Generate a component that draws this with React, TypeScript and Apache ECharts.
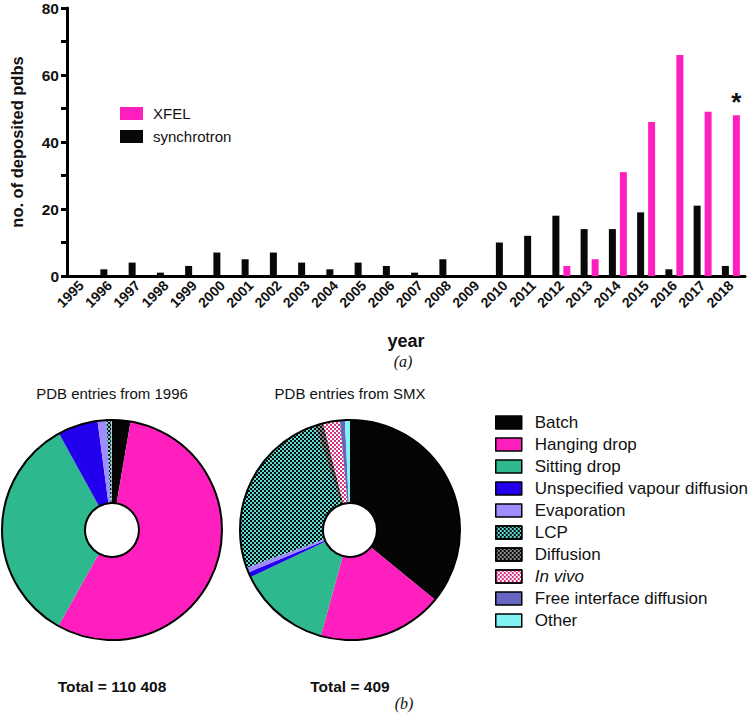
import React, { useEffect, useRef } from "react";
import * as echarts from "echarts";

const years = ["1995","1996","1997","1998","1999","2000","2001","2002","2003","2004","2005","2006","2007","2008","2009","2010","2011","2012","2013","2014","2015","2016","2017","2018"];
const synchrotron = [0,2,4,1,3,7,5,7,4,2,4,3,1,5,0,10,12,18,14,14,19,2,21,3];
const xfel = [0,0,0,0,0,0,0,0,0,0,0,0,0,0,0,0,0,3,5,31,46,66,49,48];
const yTicks = { min: 0, max: 80, interval: 20 };

const methods = ["Batch","Hanging drop","Sitting drop","Unspecified vapour diffusion","Evaporation","LCP","Diffusion","In vivo","Free interface diffusion","Other"];
const pdbAll = [2980,61170,37430,6510,1435,550,165,55,55,58];
const pdbSmx = [147,75,56,3,3,104,5,10,3,3];
const totals = ["Total = 110 408","Total = 409"];
const pieTitles = ["PDB entries from 1996","PDB entries from SMX"];

const PINK = "#FF1EBE";
const FONT = "Arial, 'Liberation Sans', sans-serif";

const checker = (color: string) => ({
  symbol: "rect",
  symbolSize: 1,
  color,
  dashArrayX: [[2, 2], [0, 2, 2, 0]],
  dashArrayY: [2, 0],
  rotation: 0,
});

const methodStyles: any[] = [
  { color: "#050505" },
  { color: PINK },
  { color: "#2EB88E" },
  { color: "#2200EE" },
  { color: "#A08CFF" },
  { color: "#5FDCD4", decal: checker("#0a0a0a") },
  { color: "#8a8a8a", decal: checker("#0a0a0a") },
  { color: "#FFFFFF", decal: checker("#D8307E") },
  { color: "#6666C0" },
  { color: "#80F2F2" },
];

const pieCenters = [[112, 530], [350, 530]];
const R_OUT = 110;
const R_IN = 27;

export default function App() {
  const ref = useRef<HTMLDivElement>(null);
  useEffect(() => {
    if (!ref.current) return;
    const chart = echarts.init(ref.current, null, { renderer: "svg" });
    const pieSeries = [pdbAll, pdbSmx].map((vals, k) => ({
      type: "pie",
      name: pieTitles[k],
      center: pieCenters[k],
      radius: [R_IN, R_OUT],
      startAngle: 90,
      clockwise: true,
      label: { show: false },
      labelLine: { show: false },
      emphasis: { disabled: true },
      silent: true,
      data: methods.map((m, i) => ({ name: m, value: vals[i], itemStyle: methodStyles[i] })),
    }));

    const graphic: any[] = [];
    pieCenters.forEach((c, k) => {
      graphic.push({ type: "circle", shape: { cx: c[0], cy: c[1], r: R_OUT }, style: { fill: "none", stroke: "#000", lineWidth: 2 }, z: 100 });
      graphic.push({ type: "circle", shape: { cx: c[0], cy: c[1], r: R_IN }, style: { fill: "#fff", stroke: "#000", lineWidth: 2 }, z: 100 });
      graphic.push({ type: "text", x: c[0], y: 393, style: { text: pieTitles[k], font: `15px ${FONT}`, fill: "#111", textAlign: "center", textVerticalAlign: "middle" } });
      graphic.push({ type: "text", x: c[0], y: 686, style: { text: totals[k], font: `bold 15.5px ${FONT}`, fill: "#111", textAlign: "center", textVerticalAlign: "middle" } });
    });
    graphic.push({ type: "text", x: 403, y: 361, style: { text: "(a)", font: `italic 16px 'Liberation Serif', serif`, fill: "#111", textAlign: "center", textVerticalAlign: "middle" } });
    graphic.push({ type: "text", x: 404, y: 703, style: { text: "(b)", font: `italic 16px 'Liberation Serif', serif`, fill: "#111", textAlign: "center", textVerticalAlign: "middle" } });

    chart.setOption({
      animation: false,
      textStyle: { fontFamily: FONT },
      grid: { left: 58, right: 11, top: 5, bottom: 437, containLabel: false },
      legend: [
        {
          data: ["XFEL", "synchrotron"],
          left: 115,
          top: 101,
          orient: "vertical",
          itemWidth: 23,
          itemHeight: 13,
          itemGap: 8,
          icon: "rect",
          textStyle: { fontSize: 15, color: "#111", fontFamily: FONT, padding: [0, 0, 0, 5] },
          selectedMode: false,
        },
        {
          data: methods,
          left: 490,
          top: 409,
          orient: "vertical",
          itemWidth: 26,
          itemHeight: 13,
          itemGap: 5,
          icon: "rect",
          itemStyle: { borderColor: "#000", borderWidth: 1.5 },
          formatter: (n: string) => (n === "In vivo" ? "{it|In vivo}" : n),
          textStyle: {
            fontSize: 17, lineHeight: 17, color: "#111", fontFamily: FONT, padding: [0, 0, 0, 8],
            rich: { it: { fontStyle: "italic", fontSize: 17, fontFamily: FONT, color: "#111" } },
          },
          selectedMode: false,
        },
      ],
      xAxis: {
        type: "category",
        data: years,
        boundaryGap: true,
        name: "year",
        nameLocation: "middle",
        nameGap: 56,
        nameTextStyle: { fontSize: 18, fontWeight: "bold", color: "#111" },
        axisLine: { lineStyle: { color: "#000", width: 3 } },
        axisTick: { alignWithLabel: true, length: 8, lineStyle: { width: 3, color: "#000" } },
        axisLabel: { rotate: 45, fontSize: 14, fontWeight: "bold", color: "#111", margin: 7, interval: 0 },
      },
      yAxis: {
        type: "value",
        min: yTicks.min,
        max: yTicks.max,
        interval: yTicks.interval,
        name: "no. of deposited pdbs",
        nameLocation: "middle",
        nameGap: 42,
        nameTextStyle: { fontSize: 16.5, fontWeight: "bold", color: "#111" },
        axisLine: { show: true, lineStyle: { color: "#000", width: 3 } },
        axisTick: { show: true, length: 6, lineStyle: { width: 3, color: "#000" } },
        minorTick: { show: true, splitNumber: 2, length: 6, lineStyle: { width: 3, color: "#000" } },
        splitLine: { show: false },
        axisLabel: { fontSize: 15.5, fontWeight: "bold", color: "#111", margin: 8 },
      },
      series: [
        {
          type: "bar",
          name: "synchrotron",
          data: synchrotron,
          barWidth: 7,
          barGap: "57%",
          itemStyle: { color: "#080808" },
          silent: true,
        },
        {
          type: "bar",
          name: "XFEL",
          data: xfel.map((v, i) =>
            i === years.length - 1
              ? { value: v, label: { show: true, position: "top", formatter: "*", fontSize: 26, fontWeight: "bold", color: "#111", distance: 0 } }
              : v
          ),
          barWidth: 7,
          itemStyle: { color: PINK },
          silent: true,
        },
        ...pieSeries,
      ],
      graphic,
    });
    return () => chart.dispose();
  }, []);
  return <div ref={ref} style={{ position: "fixed", left: 0, top: 0, width: 756, height: 713, background: "#fff" }} />;
}
